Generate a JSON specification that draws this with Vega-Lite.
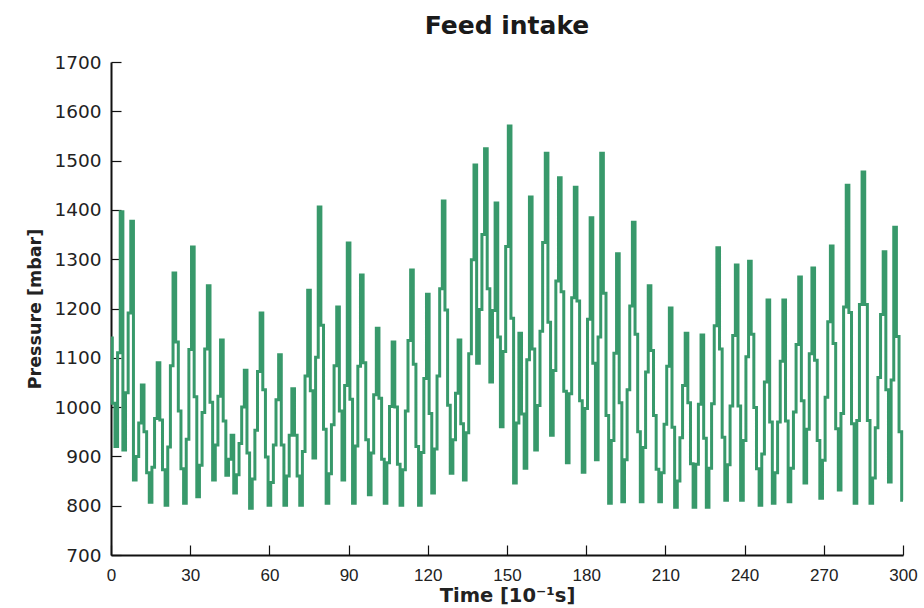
{
  "$schema": "https://vega.github.io/schema/vega-lite/v6.json",
  "width": 792,
  "height": 493,
  "autosize": {"type": "none"},
  "padding": {"left": 111, "top": 62, "right": 21, "bottom": 53},
  "background": "white",
  "title": {"text": "Feed intake", "font": "DejaVu Sans", "fontSize": 25, "fontWeight": "bold", "color": "#1a1a1a", "offset": 14, "anchor": "middle"},
  "config": {"view": {"stroke": null}},
  "data": {"values": [
    {"t":0,"p":1140},{"t":1,"p":1008},{"t":2,"p":920},{"t":3,"p":1110},{"t":4,"p":1396},{"t":5,"p":913},{"t":6,"p":1029},{"t":7,"p":1191},{"t":8,"p":1377},{"t":9,"p":852},
    {"t":10,"p":900},{"t":11,"p":968},{"t":12,"p":1045},{"t":13,"p":950},{"t":14,"p":867},{"t":15,"p":807},{"t":16,"p":878},{"t":17,"p":977},{"t":18,"p":1090},{"t":19,"p":974},
    {"t":20,"p":873},{"t":21,"p":801},{"t":22,"p":919},{"t":23,"p":1084},{"t":24,"p":1272},{"t":25,"p":1132},{"t":26,"p":992},{"t":27,"p":875},{"t":28,"p":805},{"t":29,"p":935},
    {"t":30,"p":1117},{"t":31,"p":1325},{"t":32,"p":1021},{"t":33,"p":818},{"t":34,"p":882},{"t":35,"p":989},{"t":36,"p":1118},{"t":37,"p":1246},{"t":38,"p":1010},{"t":39,"p":852},
    {"t":40,"p":923},{"t":41,"p":1022},{"t":42,"p":1136},{"t":43,"p":972},{"t":44,"p":862},{"t":45,"p":894},{"t":46,"p":943},{"t":47,"p":826},{"t":48,"p":863},{"t":49,"p":926},
    {"t":50,"p":1000},{"t":51,"p":1075},{"t":52,"p":907},{"t":53,"p":795},{"t":54,"p":854},{"t":55,"p":953},{"t":56,"p":1072},{"t":57,"p":1191},{"t":58,"p":1035},{"t":59,"p":899},
    {"t":60,"p":801},{"t":61,"p":847},{"t":62,"p":923},{"t":63,"p":1015},{"t":64,"p":1106},{"t":65,"p":923},{"t":66,"p":801},{"t":67,"p":860},{"t":68,"p":943},{"t":69,"p":1037},
    {"t":70,"p":943},{"t":71,"p":860},{"t":72,"p":801},{"t":73,"p":910},{"t":74,"p":1063},{"t":75,"p":1237},{"t":76,"p":1033},{"t":77,"p":897},{"t":78,"p":1101},{"t":79,"p":1406},
    {"t":80,"p":1166},{"t":81,"p":955},{"t":82,"p":805},{"t":83,"p":865},{"t":84,"p":964},{"t":85,"p":1084},{"t":86,"p":1203},{"t":87,"p":992},{"t":88,"p":852},{"t":89,"p":1044},
    {"t":90,"p":1333},{"t":91,"p":1016},{"t":92,"p":805},{"t":93,"p":921},{"t":94,"p":1083},{"t":95,"p":1268},{"t":96,"p":1090},{"t":97,"p":934},{"t":98,"p":822},{"t":99,"p":907},
    {"t":100,"p":1025},{"t":101,"p":1160},{"t":102,"p":1018},{"t":103,"p":894},{"t":104,"p":805},{"t":105,"p":887},{"t":106,"p":1001},{"t":107,"p":1132},{"t":108,"p":1000},{"t":109,"p":884},
    {"t":110,"p":801},{"t":111,"p":873},{"t":112,"p":992},{"t":113,"p":1135},{"t":114,"p":1278},{"t":115,"p":1087},{"t":116,"p":920},{"t":117,"p":801},{"t":118,"p":908},{"t":119,"p":1058},
    {"t":120,"p":1229},{"t":121,"p":987},{"t":122,"p":826},{"t":123,"p":915},{"t":124,"p":1063},{"t":125,"p":1240},{"t":126,"p":1418},{"t":127,"p":1197},{"t":128,"p":1004},{"t":129,"p":866},
    {"t":130,"p":934},{"t":131,"p":1028},{"t":132,"p":1136},{"t":133,"p":966},{"t":134,"p":852},{"t":135,"p":948},{"t":136,"p":1108},{"t":137,"p":1299},{"t":138,"p":1491},{"t":139,"p":1089},
    {"t":140,"p":1198},{"t":141,"p":1350},{"t":142,"p":1524},{"t":143,"p":1240},{"t":144,"p":1051},{"t":145,"p":1196},{"t":146,"p":1414},{"t":147,"p":1142},{"t":148,"p":960},{"t":149,"p":1113},
    {"t":150,"p":1326},{"t":151,"p":1570},{"t":152,"p":1180},{"t":153,"p":846},{"t":154,"p":968},{"t":155,"p":1150},{"t":156,"p":986},{"t":157,"p":876},{"t":158,"p":1096},{"t":159,"p":1426},
    {"t":160,"p":1118},{"t":161,"p":913},{"t":162,"p":1003},{"t":163,"p":1154},{"t":164,"p":1334},{"t":165,"p":1515},{"t":166,"p":1172},{"t":167,"p":943},{"t":168,"p":1074},{"t":169,"p":1256},
    {"t":170,"p":1465},{"t":171,"p":1234},{"t":172,"p":1032},{"t":173,"p":887},{"t":174,"p":1027},{"t":175,"p":1222},{"t":176,"p":1446},{"t":177,"p":1215},{"t":178,"p":1013},{"t":179,"p":868},
    {"t":180,"p":997},{"t":181,"p":1178},{"t":182,"p":1384},{"t":183,"p":1089},{"t":184,"p":893},{"t":185,"p":1142},{"t":186,"p":1515},{"t":187,"p":1231},{"t":188,"p":983},{"t":189,"p":805},
    {"t":190,"p":932},{"t":191,"p":1109},{"t":192,"p":1311},{"t":193,"p":1009},{"t":194,"p":808},{"t":195,"p":893},{"t":196,"p":1035},{"t":197,"p":1205},{"t":198,"p":1375},{"t":199,"p":1148},
    {"t":200,"p":950},{"t":201,"p":808},{"t":202,"p":918},{"t":203,"p":1071},{"t":204,"p":1246},{"t":205,"p":1115},{"t":206,"p":983},{"t":207,"p":874},{"t":208,"p":808},{"t":209,"p":867},
    {"t":210,"p":965},{"t":211,"p":1083},{"t":212,"p":1201},{"t":213,"p":959},{"t":214,"p":797},{"t":215,"p":850},{"t":216,"p":938},{"t":217,"p":1044},{"t":218,"p":1150},{"t":219,"p":1009},
    {"t":220,"p":885},{"t":221,"p":797},{"t":222,"p":884},{"t":223,"p":1006},{"t":224,"p":1146},{"t":225,"p":937},{"t":226,"p":797},{"t":227,"p":876},{"t":228,"p":1007},{"t":229,"p":1165},
    {"t":230,"p":1323},{"t":231,"p":1118},{"t":232,"p":939},{"t":233,"p":811},{"t":234,"p":883},{"t":235,"p":1002},{"t":236,"p":1145},{"t":237,"p":1288},{"t":238,"p":1002},{"t":239,"p":811},
    {"t":240,"p":932},{"t":241,"p":1102},{"t":242,"p":1296},{"t":243,"p":1148},{"t":244,"p":999},{"t":245,"p":875},{"t":246,"p":801},{"t":247,"p":905},{"t":248,"p":1051},{"t":249,"p":1217},
    {"t":250,"p":970},{"t":251,"p":805},{"t":252,"p":867},{"t":253,"p":970},{"t":254,"p":1093},{"t":255,"p":1217},{"t":256,"p":972},{"t":257,"p":808},{"t":258,"p":876},{"t":259,"p":990},
    {"t":260,"p":1127},{"t":261,"p":1264},{"t":262,"p":1013},{"t":263,"p":846},{"t":264,"p":955},{"t":265,"p":1108},{"t":266,"p":1282},{"t":267,"p":1095},{"t":268,"p":932},{"t":269,"p":815},
    {"t":270,"p":892},{"t":271,"p":1020},{"t":272,"p":1173},{"t":273,"p":1327},{"t":274,"p":1129},{"t":275,"p":956},{"t":276,"p":832},{"t":277,"p":987},{"t":278,"p":1203},{"t":279,"p":1450},
    {"t":280,"p":1192},{"t":281,"p":966},{"t":282,"p":805},{"t":283,"p":973},{"t":284,"p":1208},{"t":285,"p":1477},{"t":286,"p":1208},{"t":287,"p":973},{"t":288,"p":805},{"t":289,"p":856},
    {"t":290,"p":958},{"t":291,"p":1060},{"t":292,"p":1188},{"t":293,"p":1315},{"t":294,"p":1035},{"t":295,"p":848},{"t":296,"p":1055},{"t":297,"p":1365},{"t":298,"p":1143},{"t":299,"p":950},
    {"t":300,"p":811}
  ]},
  "mark": {"type": "line", "interpolate": "step", "color": "#38996b", "strokeWidth": 3, "strokeJoin": "miter"},
  "encoding": {
    "x": {"field": "t", "type": "quantitative", "scale": {"domain": [0, 300], "nice": false, "zero": false},
      "axis": {"values": [0,30,60,90,120,150,180,210,240,270,300], "grid": false, "title": "Time [10⁻¹s]", "format": "d", "labelFlush": false,
        "domainColor": "#111", "domainWidth": 2, "tickColor": "#111", "tickWidth": 1.2, "tickSize": -10, "labelPadding": 22,
        "labelFont": "Liberation Sans", "labelFontSize": 17, "labelColor": "#222", "labelOverlap": false,
        "titleFont": "DejaVu Sans", "titleFontSize": 19.5, "titleFontWeight": "bold", "titleColor": "#222", "titlePadding": 3}},
    "y": {"field": "p", "type": "quantitative", "scale": {"domain": [700, 1700], "nice": false, "zero": false},
      "axis": {"values": [700,800,900,1000,1100,1200,1300,1400,1500,1600,1700], "grid": false, "title": "Pressure [mbar]", "format": "d", "labelFlush": false,
        "domainColor": "#111", "domainWidth": 2, "tickColor": "#111", "tickWidth": 1.2, "tickSize": -10, "labelPadding": 20,
        "labelFont": "DejaVu Sans", "labelFontSize": 18.5, "labelColor": "#222",
        "titleFont": "DejaVu Sans", "titleFontSize": 17.5, "titleFontWeight": "bold", "titleColor": "#222", "titlePadding": 9}}
  }
}
